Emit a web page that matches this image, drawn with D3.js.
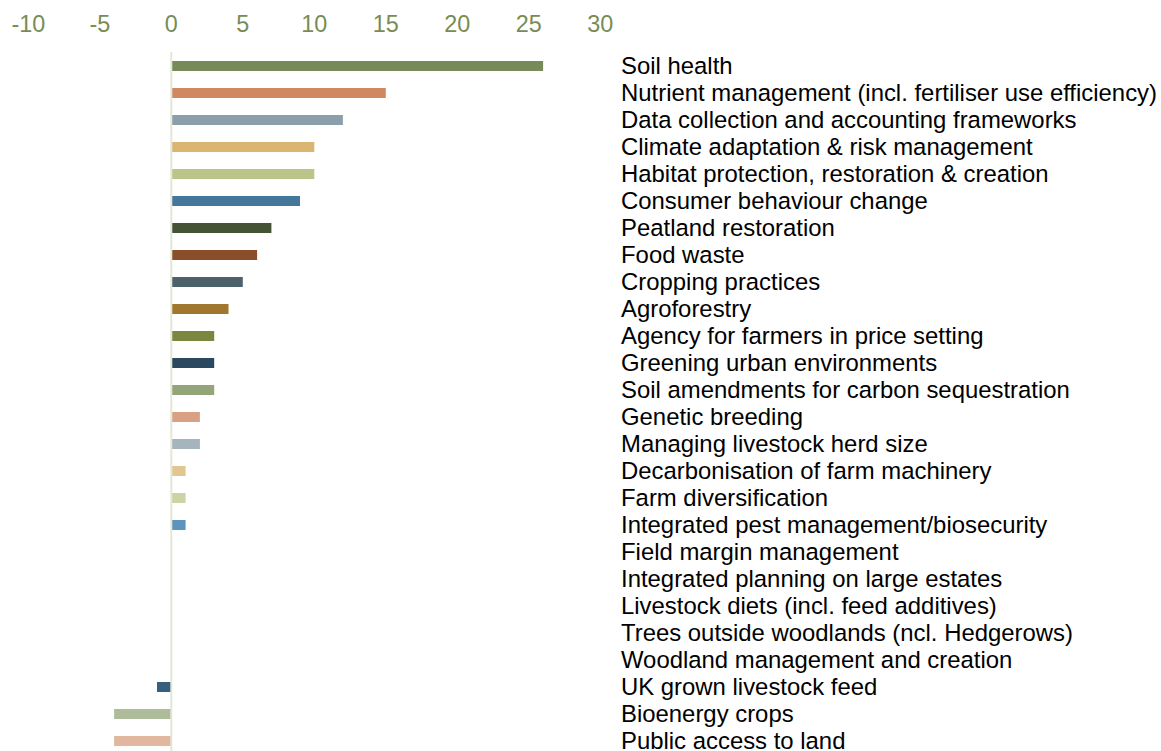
<!DOCTYPE html>
<html lang="en">
<head>
  <meta charset="UTF-8">
  <title>Priority areas</title>
  <script src="https://d3js.org/d3.v7.min.js"></script>
  <style>
    body {
      margin: 0;
      background: #fff;
      font-family: Arial, "Liberation Sans", sans-serif;
    }
  </style>
</head>
<body>

<svg width="1161" height="751"></svg>

<script>

  const categories = [
    "Soil health",
    "Nutrient management (incl. fertiliser use efficiency)",
    "Data collection and accounting frameworks",
    "Climate adaptation & risk management",
    "Habitat protection, restoration & creation",
    "Consumer behaviour change",
    "Peatland restoration",
    "Food waste",
    "Cropping practices",
    "Agroforestry",
    "Agency for farmers in price setting",
    "Greening urban environments",
    "Soil amendments for carbon sequestration",
    "Genetic breeding",
    "Managing livestock herd size",
    "Decarbonisation of farm machinery",
    "Farm diversification",
    "Integrated pest management/biosecurity",
    "Field margin management",
    "Integrated planning on large estates",
    "Livestock diets (incl. feed additives)",
    "Trees outside woodlands (ncl. Hedgerows)",
    "Woodland management and creation",
    "UK grown livestock feed",
    "Bioenergy crops",
    "Public access to land"
  ];

  const values = [26, 15, 12, 10, 10, 9, 7, 6, 5, 4, 3, 3, 3, 2, 2, 1, 1, 1, 0, 0, 0, 0, 0, -1, -4, -4];

  const colors = [
    "#778b5a", "#d08860", "#8a9fab", "#dab672", "#bac689", "#44779b",
    "#465236", "#8a4e2b", "#4d616b", "#a0772c", "#7a873e", "#2a4960",
    "#94a678", "#daa083", "#a6b4be", "#e2c690", "#cbd4a4", "#5c94bd",
    "#778b5a", "#d08860", "#8a9fab", "#dab672", "#bac689", "#365f80",
    "#aebc9b", "#e2b7a0"
  ];

  const tickValues = [-10, -5, 0, 5, 10, 15, 20, 25, 30];

  const svg = d3.select("svg");
  const height = +svg.attr("height");

  const x = d3.scaleLinear()
    .domain([-10, 30])
    .range([28.3, 600.3]);

  const y = d3.scaleBand()
    .domain(categories)
    .range([52.5, 754.5])
    .paddingInner(0.63)
    .paddingOuter(0.315);

  // tick labels along the top
  svg.append("g")
    .selectAll("text")
    .data(tickValues)
    .join("text")
    .attr("x", d => x(d))
    .attr("y", 31.5)
    .attr("text-anchor", "middle")
    .attr("font-size", 23.4)
    .attr("fill", "#798c55")
    .text(d => d);

  // bars
  svg.append("g")
    .selectAll("rect")
    .data(categories)
    .join("rect")
    .attr("x", (d, i) => x(Math.min(0, values[i])))
    .attr("y", d => y(d))
    .attr("width", (d, i) => Math.abs(x(values[i]) - x(0)))
    .attr("height", y.bandwidth())
    .attr("fill", (d, i) => colors[i]);

  // zero line
  svg.append("line")
    .attr("x1", x(0))
    .attr("x2", x(0))
    .attr("y1", 52)
    .attr("y2", height)
    .attr("stroke", "#e3e8d6")
    .attr("stroke-width", 2);

  // category labels on the right
  svg.append("g")
    .selectAll("text")
    .data(categories)
    .join("text")
    .attr("x", 621)
    .attr("y", d => y(d) + y.bandwidth() / 2)
    .attr("dy", "0.35em")
    .attr("font-size", 23.9)
    .attr("fill", "#000")
    .text(d => d);

</script>

</body>
</html>
